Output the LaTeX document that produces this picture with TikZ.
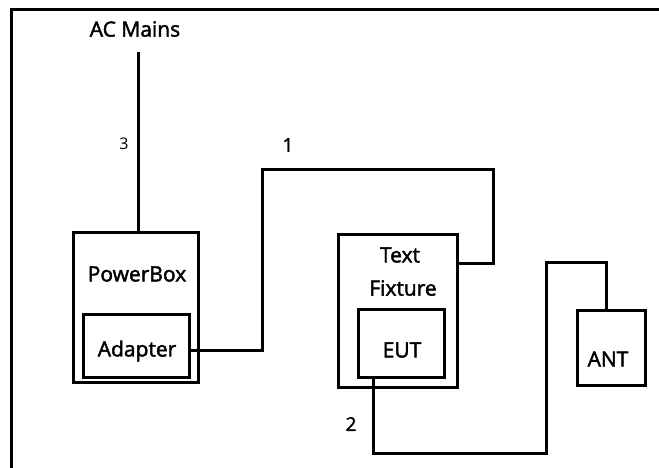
\documentclass[tikz,border=0pt]{standalone}
\usepackage{fontspec}
\setmainfont{Open Sans}
\newfontfamily\lblfont{Open Sans}[FakeBold=2]
\begin{document}
\begin{tikzpicture}[x=1pt,y=-1pt,
  wire/.style={line width=3pt,line join=miter},
  box/.style={draw,line width=3pt,minimum width=#1,inner sep=0pt},
  lbl/.style={font=\lblfont\fontsize{21}{23}\selectfont,inner sep=0pt,anchor=center},
  num/.style={font=\lblfont\fontsize{19}{21}\selectfont,inner sep=0pt},
]
\useasboundingbox (0,0) rectangle (659,468);
% frame edges
\draw[line width=3pt] (11,468) -- (11,10) -- (659,10);

% boxes
\node[box=125pt,minimum height=150pt] (pbox) at (135.5,307) {};
\node[box=106pt,minimum height=63pt] (adapter) at (136,345.5) {};
\node[box=119pt,minimum height=153pt] (fixture) at (397.5,310.5) {};
\node[box=86pt,minimum height=68pt] (eut) at (401,343) {};
\node[box=68pt,minimum height=75pt] (ant) at (611,347.5) {};

% labels
\node[lbl] (mains) at (135,29) {AC Mains};
\node[lbl] (pboxlbl) at (137,274) {PowerBox};
\node[lbl] (adlbl) at (137,351) {Adapter};
\node[lbl] (fixlbl1) at (400,255) {Text};
\node[lbl] (fixlbl2) at (403,288) {Fixture};
\node[lbl] (eutlbl) at (402,350) {EUT};
\node[lbl] (antlbl) at (608,359) {ANT};
\node[inner sep=0pt,font=\fontsize{16}{18}\selectfont] (n3) at (124,144) {3};
\node[num] (n1) at (288,145) {1};
\node[num] (n2) at (351,424) {2};

% cables
\coordinate (acend) at (138,52);
\draw[wire] (acend) -- (acend |- pbox.north);
\draw[wire] ([yshift=-5pt]adapter.east) -| (262,170) -| (493,263) -- (fixture.east |- {(0,263)});
\draw[wire] ([xshift=-28pt]eut.south) -- (373,453) -| (546,262) -| ([xshift=-5pt]ant.north);
\end{tikzpicture}
\end{document}
